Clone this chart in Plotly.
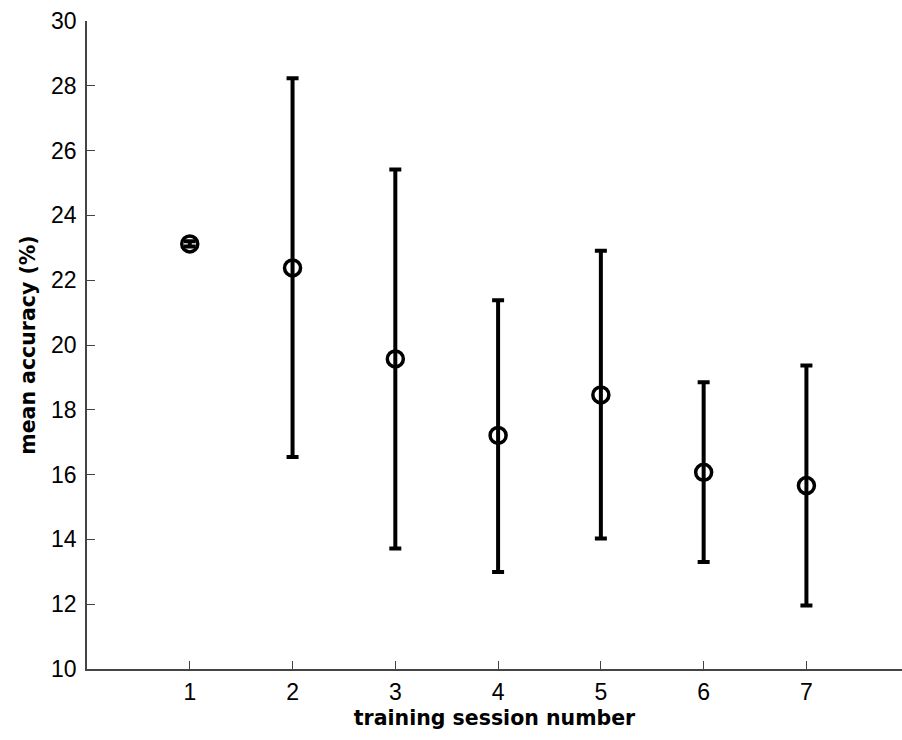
import plotly.graph_objects as go

# Mean accuracy per training session with error bars
sessions = [1, 2, 3, 4, 5, 6, 7]
mean_acc = [23.12, 22.38, 19.57, 17.21, 18.46, 16.07, 15.66]
upper = [23.2, 28.23, 25.42, 21.38, 22.91, 18.85, 19.37]
lower = [23.04, 16.54, 13.72, 12.99, 14.03, 13.30, 11.96]

err_plus = [u - m for u, m in zip(upper, mean_acc)]
err_minus = [m - l for m, l in zip(mean_acc, lower)]

y_ticks = [10, 12, 14, 16, 18, 20, 22, 24, 26, 28, 30]

fig = go.Figure()
fig.add_trace(go.Scatter(
    x=sessions, y=mean_acc, mode="markers",
    marker=dict(symbol="circle-open", size=16, color="black",
                line=dict(width=3.5, color="black")),
    error_y=dict(type="data", symmetric=False, array=err_plus,
                 arrayminus=err_minus, color="black", thickness=4, width=6),
    showlegend=False,
))

axis_font = dict(family="Liberation Sans, Arial, sans-serif", size=23, color="black")
title_font = dict(family="DejaVu Sans, sans-serif", size=20.5, color="black")

fig.update_layout(
    width=902, height=740,
    margin=dict(l=87, r=0, t=21, b=71),
    plot_bgcolor="white", paper_bgcolor="white",
    xaxis=dict(
        range=[0, 7.93], tickvals=sessions, ticks="inside", ticklen=8,
        tickcolor="#444", tickwidth=1.3, showgrid=False, zeroline=False,
        showline=True, linecolor="#444", linewidth=1.5,
        tickfont=axis_font, ticklabelstandoff=2,
        title=dict(text="<b>training session number</b>", font=title_font, standoff=6),
    ),
    yaxis=dict(
        range=[10, 30], tickvals=y_ticks, ticks="inside", ticklen=8,
        tickcolor="#444", tickwidth=1.3, showgrid=False, zeroline=False,
        showline=True, linecolor="#444", linewidth=1.5,
        tickfont=axis_font, ticklabelstandoff=4,
        title=dict(text="<b>mean accuracy (%)</b>", font=title_font, standoff=10),
    ),
)

fig.write_html("out.html")
